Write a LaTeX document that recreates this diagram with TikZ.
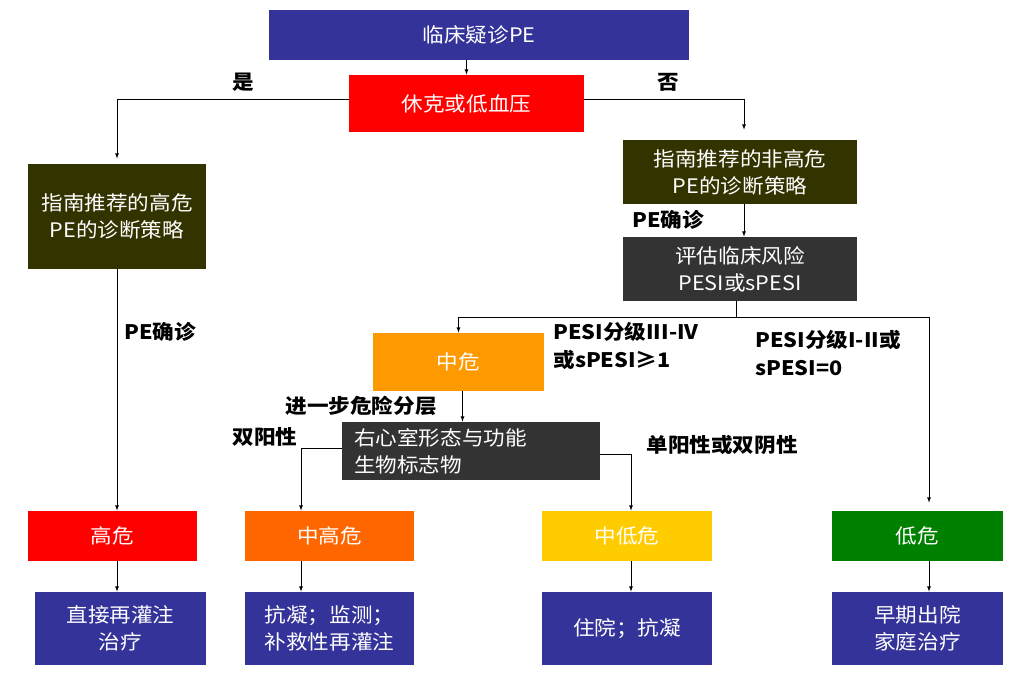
\documentclass[tikz,border=0pt]{standalone}
\usepackage{fontspec}
\setmainfont{Noto Sans CJK SC}[FakeStretch=1.08]
\usetikzlibrary{arrows}

\begin{document}
\begin{tikzpicture}[>=latex, x=1pt, y=-1pt, line width=0.8pt,
  font=\fontsize{20}{27}\selectfont,
  box/.style={inner sep=0pt, text=white, align=center},
  lbl/.style={inner sep=0pt, font=\fontsize{20}{28}\selectfont\bfseries, align=left}]

\definecolor{pebg}{rgb}{0.2,0.2,0.6}
\definecolor{peolive}{rgb}{0.2,0.2,0}
\definecolor{pegray}{rgb}{0.2,0.2,0.2}
\definecolor{peorange}{rgb}{1,0.6,0}
\definecolor{pemidhi}{rgb}{1,0.4,0}
\definecolor{pemidlo}{rgb}{1,0.8,0}
\definecolor{pegreen}{rgb}{0,0.5,0}

\useasboundingbox (0,0) rectangle (1034,679);

\node[box, fill=pebg, minimum width=420, minimum height=50] (suspect) at (479,35) {临床疑诊PE};
\node[box, fill=red, minimum width=235, minimum height=57] (shock) at (466.5,103.5) {休克或低血压};
\node[box, fill=peolive, minimum width=178, minimum height=105] (higuide) at (117,216.5) {指南推荐的高危\\PE的诊断策略};
\node[box, fill=peolive, minimum width=234, minimum height=64] (loguide) at (740,172) {指南推荐的非高危\\PE的诊断策略};
\node[box, fill=pegray, minimum width=234, minimum height=64] (assess) at (740,269) {评估临床风险\\PESI或sPESI};
\node[box, fill=peorange, minimum width=171, minimum height=58] (mid) at (458.5,362) {中危};
\node[box, fill=pegray, minimum width=258, minimum height=58, align=left, text width=234] (rv) at (471,451) {右心室形态与功能\\生物标志物};

\node[box, fill=red, minimum width=169, minimum height=50] (hi) at (112.5,536) {高危};
\node[box, fill=pemidhi, minimum width=169, minimum height=50] (mh) at (329.5,536) {中高危};
\node[box, fill=pemidlo, minimum width=170, minimum height=50] (ml) at (627,536) {中低危};
\node[box, fill=pegreen, minimum width=171, minimum height=50] (lo) at (917.5,536) {低危};

\node[box, fill=pebg, minimum width=171, minimum height=73] (tr1) at (120.5,628.5) {直接再灌注\\治疗};
\node[box, fill=pebg, minimum width=169, minimum height=73] (tr2) at (329.5,628.5) {抗凝；监测；\\补救性再灌注};
\node[box, fill=pebg, minimum width=170, minimum height=73] (tr3) at (627,628.5) {住院；抗凝};
\node[box, fill=pebg, minimum width=171, minimum height=73] (tr4) at (917.5,628.5) {早期出院\\家庭治疗};

% labels
\node[lbl] (yes) at (243,82) {是};
\node[lbl] (no) at (668,82) {否};
\node[lbl] (conf1) at (160,332) {PE确诊};
\node[lbl] (conf2) at (668,220) {PE确诊};
\node[lbl, anchor=west] (pesihi) at (553,346) {PESI分级III-IV\\或sPESI≥1};
\node[lbl, anchor=west] (pesilo) at (755,353) {PESI分级I-II或\\sPESI=0};
\node[lbl, anchor=east] (further) at (437,406) {进一步危险分层};
\node[lbl] (dbpos) at (265,437) {双阳性};
\node[lbl] (sgpos) at (722,445) {单阳性或双阴性};

\coordinate (split) at (736,317);
\coordinate (lcol) at (301,0);
\coordinate (mcol) at (631,0);
\coordinate (rcol) at (929,317);

\draw[->] (shock.north |- suspect.south) -- (shock.north);
\draw[->, shorten >=5pt] ([yshift=4.5pt]shock.west) -| (higuide.north);
\draw[->, shorten >=10pt] ([yshift=4.5pt]shock.east) -| ([xshift=4pt]loguide.north);
\draw[->] ([xshift=4pt]loguide.south) -- ([xshift=4pt]assess.north);
\draw (split |- assess.south) -- (split);
\draw (mid.north |- split) -- (rcol);
\draw[->] (mid.north |- split) -- (mid.north);
\draw[->, shorten >=8pt] (rcol) -- (rcol |- lo.north);
\draw[->] ([xshift=4pt]mid.south) -- ([xshift=4pt]mid.south |- rv.north);
\draw[->] ([yshift=3pt]rv.west) -| (lcol |- mh.north);
\draw[->] ([yshift=-3pt]rv.east) -| (mcol |- ml.north);
\draw[->] (higuide.south) -- (higuide.south |- hi.north);

\draw[->] (hi.south -| higuide) -- (tr1.north -| higuide);
\draw[->] (lcol |- mh.south) -- (lcol |- tr2.north);
\draw[->] (mcol |- ml.south) -- (mcol |- tr3.north);
\draw[->] (rcol |- lo.south) -- (rcol |- tr4.north);

\end{tikzpicture}
\end{document}
